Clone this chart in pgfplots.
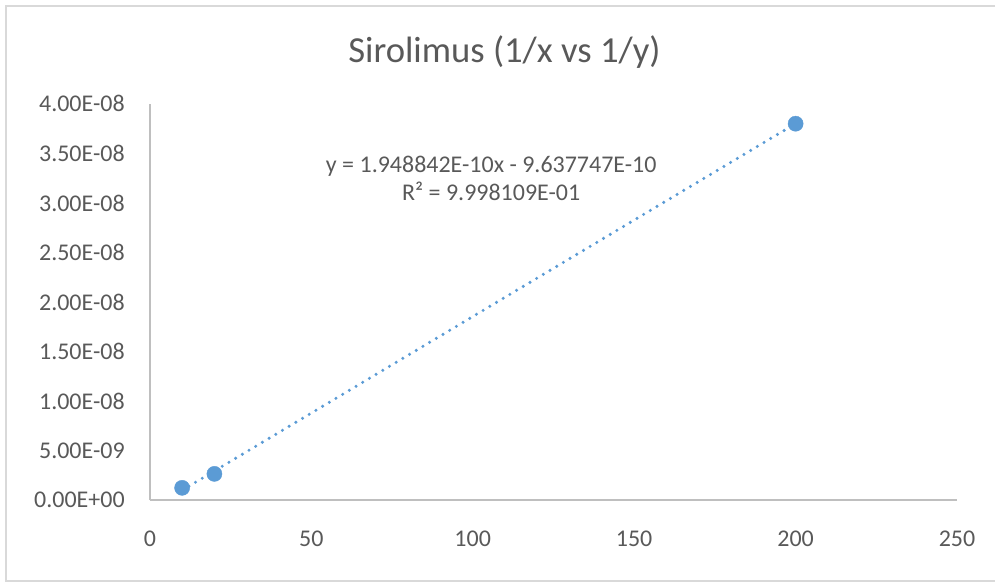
\documentclass[border=0pt]{standalone}
\usepackage{fontspec}
\setmainfont{Carlito}
\usepackage{pgfplots}
\pgfplotsset{compat=1.18}
\definecolor{txt}{HTML}{595959}
\definecolor{axc}{HTML}{BFBFBF}
\definecolor{ser}{HTML}{5B9BD5}
\definecolor{brd}{HTML}{D9D9D9}
\begin{document}
\begin{tikzpicture}[x=1pt,y=1pt]
\path (0,0) rectangle (996,-583);
\draw[brd, line width=2pt] (996,-6) -- (6,-6) -- (6,-582) -- (996,-582);
\begin{axis}[
  at={(150pt,-500.5pt)}, anchor=south west,
  scale only axis, width=808pt, height=396.5pt,
  xmin=0, xmax=250, ymin=0, ymax=4e-8,
  axis lines*=left,
  axis line style={axc, line width=1.5pt},
  major tick length=0pt,
  xtick={0,50,100,150,200,250},
  ytick={0,0.5e-8,1e-8,1.5e-8,2e-8,2.5e-8,3e-8,3.5e-8,4e-8},
  yticklabels={0.00E+00,5.00E-09,1.00E-08,1.50E-08,2.00E-08,2.50E-08,3.00E-08,3.50E-08,4.00E-08},
  scaled y ticks=false,
  /pgf/number format/assume math mode=true,
  ticklabel style={font=\fontsize{24}{28}\selectfont, text=txt, inner sep=0pt},
  xticklabel style={anchor=north, yshift=-31pt},
  yticklabel style={anchor=east, xshift=-25pt},
  clip=false,
]
\addplot[ser, line width=3.4pt, line cap=round, dash pattern=on 0pt off 7.8pt] coordinates {(10,9.850673e-10) (200,3.8013065e-8)};
\addplot[only marks, mark=*, mark size=7.6pt, mark options={fill=ser, draw=ser}] coordinates {(10,1.23e-9) (20,2.64e-9) (200,3.80e-8)};
\end{axis}
\node[anchor=base, text=txt, font=\fontsize{36.7}{40}\selectfont] at (505,-63) {Sirolimus (1/x vs 1/y)};
\node[anchor=base, text=txt, font=\fontsize{24}{28}\selectfont] at (491.7,-172.7) {y = 1.948842E-10x - 9.637747E-10};
\node[anchor=base, text=txt, font=\fontsize{24}{28}\selectfont] at (491.7,-201) {R² = 9.998109E-01};
\end{tikzpicture}
\end{document}
